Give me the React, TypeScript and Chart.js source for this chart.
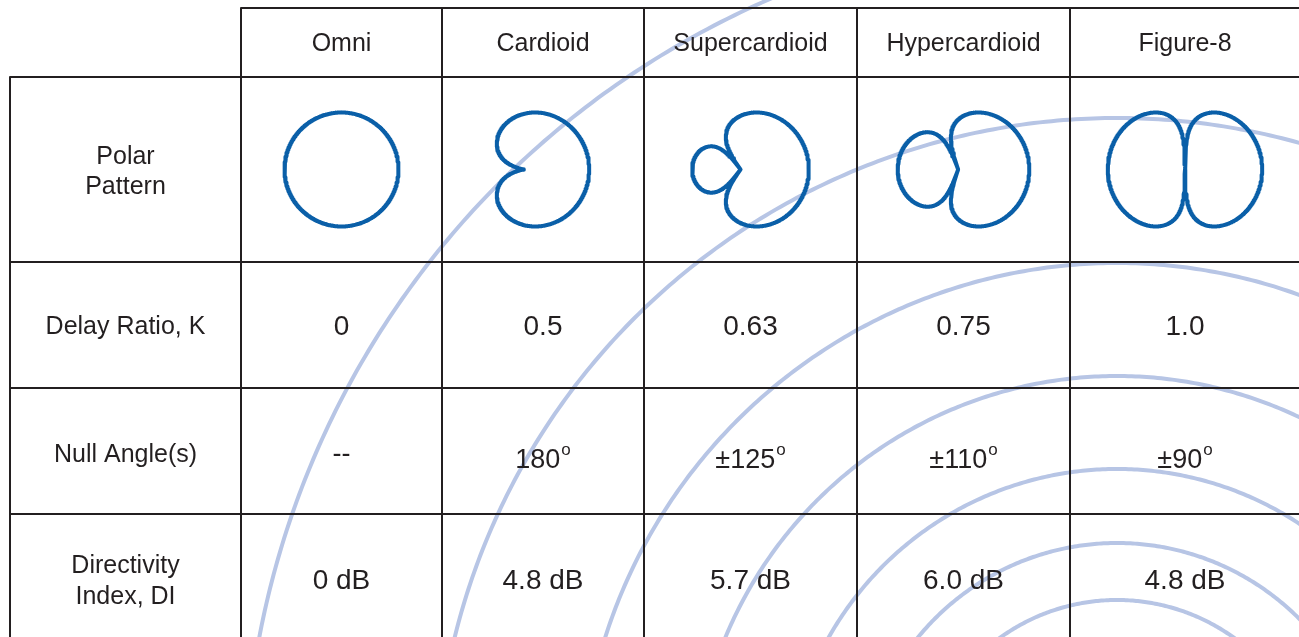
import { useEffect, useRef } from "react";
import { Chart, registerables } from "chart.js";

Chart.register(...registerables);

// ---------- data ----------
const PATTERNS = ["Omni", "Cardioid", "Supercardioid", "Hypercardioid", "Figure-8"];
const DELAY_RATIOS = [0, 0.5, 0.63, 0.75, 1.0];
const DELAY_LABELS = ["0", "0.5", "0.63", "0.75", "1.0"];
const NULL_ANGLES = ["--", "180", "±125", "±110", "±90"];
const DIRECTIVITY = ["0 dB", "4.8 dB", "5.7 dB", "6.0 dB", "4.8 dB"];
const ROW_LABELS = [["Polar", "Pattern"], ["Delay Ratio, K"], ["Null Angle(s)"], ["Directivity", "Index, DI"]];
const DB_RANGE = 40; // polar plot dynamic range (dB)

// ---------- layout / style ----------
const W = 1299;
const H = 637;
const COL_EDGES = [10, 241, 442, 644, 857, 1070, 1300];
const ROW_EDGES = [8, 77, 262, 388, 514, 637];
const ARC_CENTER = { x: 1117, y: 800 };
const ARC_RADII = [873, 682, 537, 424, 331, 257, 200];
const PATTERN_H = 114;
const TEXT_COLOR = "#231f20";
const LINE_COLOR = "#231f20";
const PATTERN_COLOR = "#0a5fa8";
const ARC_COLOR = "#b7c5e5";
const FONT = '"Liberation Sans", Arial, Helvetica, sans-serif';

const colCenter = (i: number) => (COL_EDGES[i + 1] + COL_EDGES[i + 2]) / 2;
const labelCenter = (COL_EDGES[0] + COL_EDGES[1]) / 2;
const patternRowCenter = (ROW_EDGES[1] + ROW_EDGES[2]) / 2;

function polarPattern(k: number, cx: number, cy: number) {
  const raw: [number, number][] = [];
  for (let d = 0; d <= 1440; d++) {
    const th = ((d / 4) * Math.PI) / 180;
    const f = Math.abs(1 - k + k * Math.cos(th));
    const db = f > 0 ? 20 * Math.log10(f) : -Infinity;
    const r = Math.max(0, 1 + db / DB_RANGE);
    raw.push([r * Math.cos(th), r * Math.sin(th)]);
  }
  let minX = Infinity, maxX = -Infinity, minY = Infinity, maxY = -Infinity;
  raw.forEach(([x, y]) => {
    minX = Math.min(minX, x); maxX = Math.max(maxX, x);
    minY = Math.min(minY, y); maxY = Math.max(maxY, y);
  });
  const s = PATTERN_H / (maxY - minY);
  const mx = (minX + maxX) / 2;
  const my = (minY + maxY) / 2;
  return raw.map(([x, y]) => ({ x: cx + (x - mx) * s, y: cy - (y - my) * s }));
}

function circlePoints(r: number) {
  const pts: { x: number; y: number }[] = [];
  for (let d = 0; d <= 720; d++) {
    const th = ((d / 2) * Math.PI) / 180;
    pts.push({ x: ARC_CENTER.x + r * Math.cos(th), y: ARC_CENTER.y - r * Math.sin(th) });
  }
  return pts;
}

function lineDs(data: { x: number; y: number }[], color: string, width: number, order: number) {
  return {
    data,
    showLine: true,
    borderColor: color,
    borderWidth: width,
    pointRadius: 0,
    pointHoverRadius: 0,
    fill: false,
    tension: 0,
    order,
    borderJoinStyle: "round" as const,
    borderCapStyle: "butt" as const,
  };
}

const textPlugin = {
  id: "tableText",
  afterDatasetsDraw(chart: any) {
    const { ctx } = chart;
    const xs = chart.scales.x;
    const ys = chart.scales.y;
    const px = (v: number) => xs.getPixelForValue(v);
    const py = (v: number) => ys.getPixelForValue(v);
    ctx.save();
    ctx.fillStyle = TEXT_COLOR;
    ctx.textBaseline = "alphabetic";
    ctx.textAlign = "center";

    // header
    ctx.font = `25px ${FONT}`;
    PATTERNS.forEach((p, i) => ctx.fillText(p, px(colCenter(i)), py(51)));

    // row labels
    const labelBaselines = [[163.5, 194], [333.5], [461.5], [573, 604]];
    ROW_LABELS.forEach((lines, r) =>
      lines.forEach((t, j) => ctx.fillText(t, px(labelCenter), py(labelBaselines[r][j])))
    );

    // delay ratios
    ctx.font = `28px ${FONT}`;
    DELAY_LABELS.forEach((t, i) => ctx.fillText(t, px(colCenter(i)), py(335)));

    // directivity
    DIRECTIVITY.forEach((t, i) => ctx.fillText(t, px(colCenter(i)), py(589)));

    // null angles
    NULL_ANGLES.forEach((t, i) => {
      const cx = px(colCenter(i));
      if (t === "--") {
        ctx.font = `27px ${FONT}`;
        ctx.textAlign = "center";
        ctx.fillText(t, cx, py(461.5));
        return;
      }
      ctx.font = `27px ${FONT}`;
      const w1 = ctx.measureText(t).width;
      ctx.font = `17px ${FONT}`;
      const w2 = ctx.measureText("o").width;
      const left = cx - (w1 + 1 + w2) / 2;
      ctx.textAlign = "left";
      ctx.font = `27px ${FONT}`;
      ctx.fillText(t, left, py(468));
      ctx.font = `17px ${FONT}`;
      ctx.fillText("o", left + w1 + 1, py(455));
      ctx.textAlign = "center";
    });
    ctx.restore();
  },
};

export default function App() {
  const ref = useRef<HTMLCanvasElement>(null);

  useEffect(() => {
    const canvas = ref.current;
    if (!canvas) return;
    const datasets: any[] = [];

    // polar patterns (top layer)
    PATTERNS.forEach((_, i) => {
      datasets.push(lineDs(polarPattern(DELAY_RATIOS[i], colCenter(i), patternRowCenter), PATTERN_COLOR, 4, 0));
    });

    // table grid lines
    const gx0 = COL_EDGES[0];
    const gx1 = W;
    datasets.push(lineDs([{ x: COL_EDGES[1], y: ROW_EDGES[0] }, { x: gx1, y: ROW_EDGES[0] }], LINE_COLOR, 2, 1));
    ROW_EDGES.slice(1, ROW_EDGES.length - 1).forEach((yv) => {
      datasets.push(lineDs([{ x: gx0, y: yv }, { x: gx1, y: yv }], LINE_COLOR, 2, 1));
    });
    datasets.push(lineDs([{ x: COL_EDGES[0], y: ROW_EDGES[1] }, { x: COL_EDGES[0], y: H + 5 }], LINE_COLOR, 2, 1));
    COL_EDGES.slice(1, COL_EDGES.length - 1).forEach((xv) => {
      datasets.push(lineDs([{ x: xv, y: ROW_EDGES[0] }, { x: xv, y: H + 5 }], LINE_COLOR, 2, 1));
    });

    // background arcs (bottom layer)
    ARC_RADII.forEach((r) => datasets.push(lineDs(circlePoints(r), ARC_COLOR, 4, 2)));

    const chart = new Chart(canvas, {
      type: "scatter",
      data: { datasets },
      options: {
        animation: false,
        responsive: false,
        maintainAspectRatio: false,
        events: [],
        layout: { padding: 0, autoPadding: false },
        plugins: { legend: { display: false }, tooltip: { enabled: false } },
        scales: {
          x: { type: "linear", min: 0, max: W, display: false },
          y: { type: "linear", min: 0, max: H, reverse: true, display: false },
        },
      },
      plugins: [textPlugin],
    });
    let alive = true;
    const fonts = (document as any).fonts;
    if (fonts && fonts.load) {
      Promise.all([
        fonts.load('25px "Liberation Sans"'),
        fonts.load('28px "Liberation Sans"'),
        fonts.load("25px Arial"),
      ])
        .then(() => { if (alive) chart.update(); })
        .catch(() => {});
    }
    return () => { alive = false; chart.destroy(); };
  }, []);

  return (
    <div style={{ position: "fixed", left: 0, top: 0, width: W, height: H, background: "#fff", overflow: "hidden" }}>
      <canvas ref={ref} width={W} height={H} style={{ display: "block", width: W, height: H }} />
    </div>
  );
}
